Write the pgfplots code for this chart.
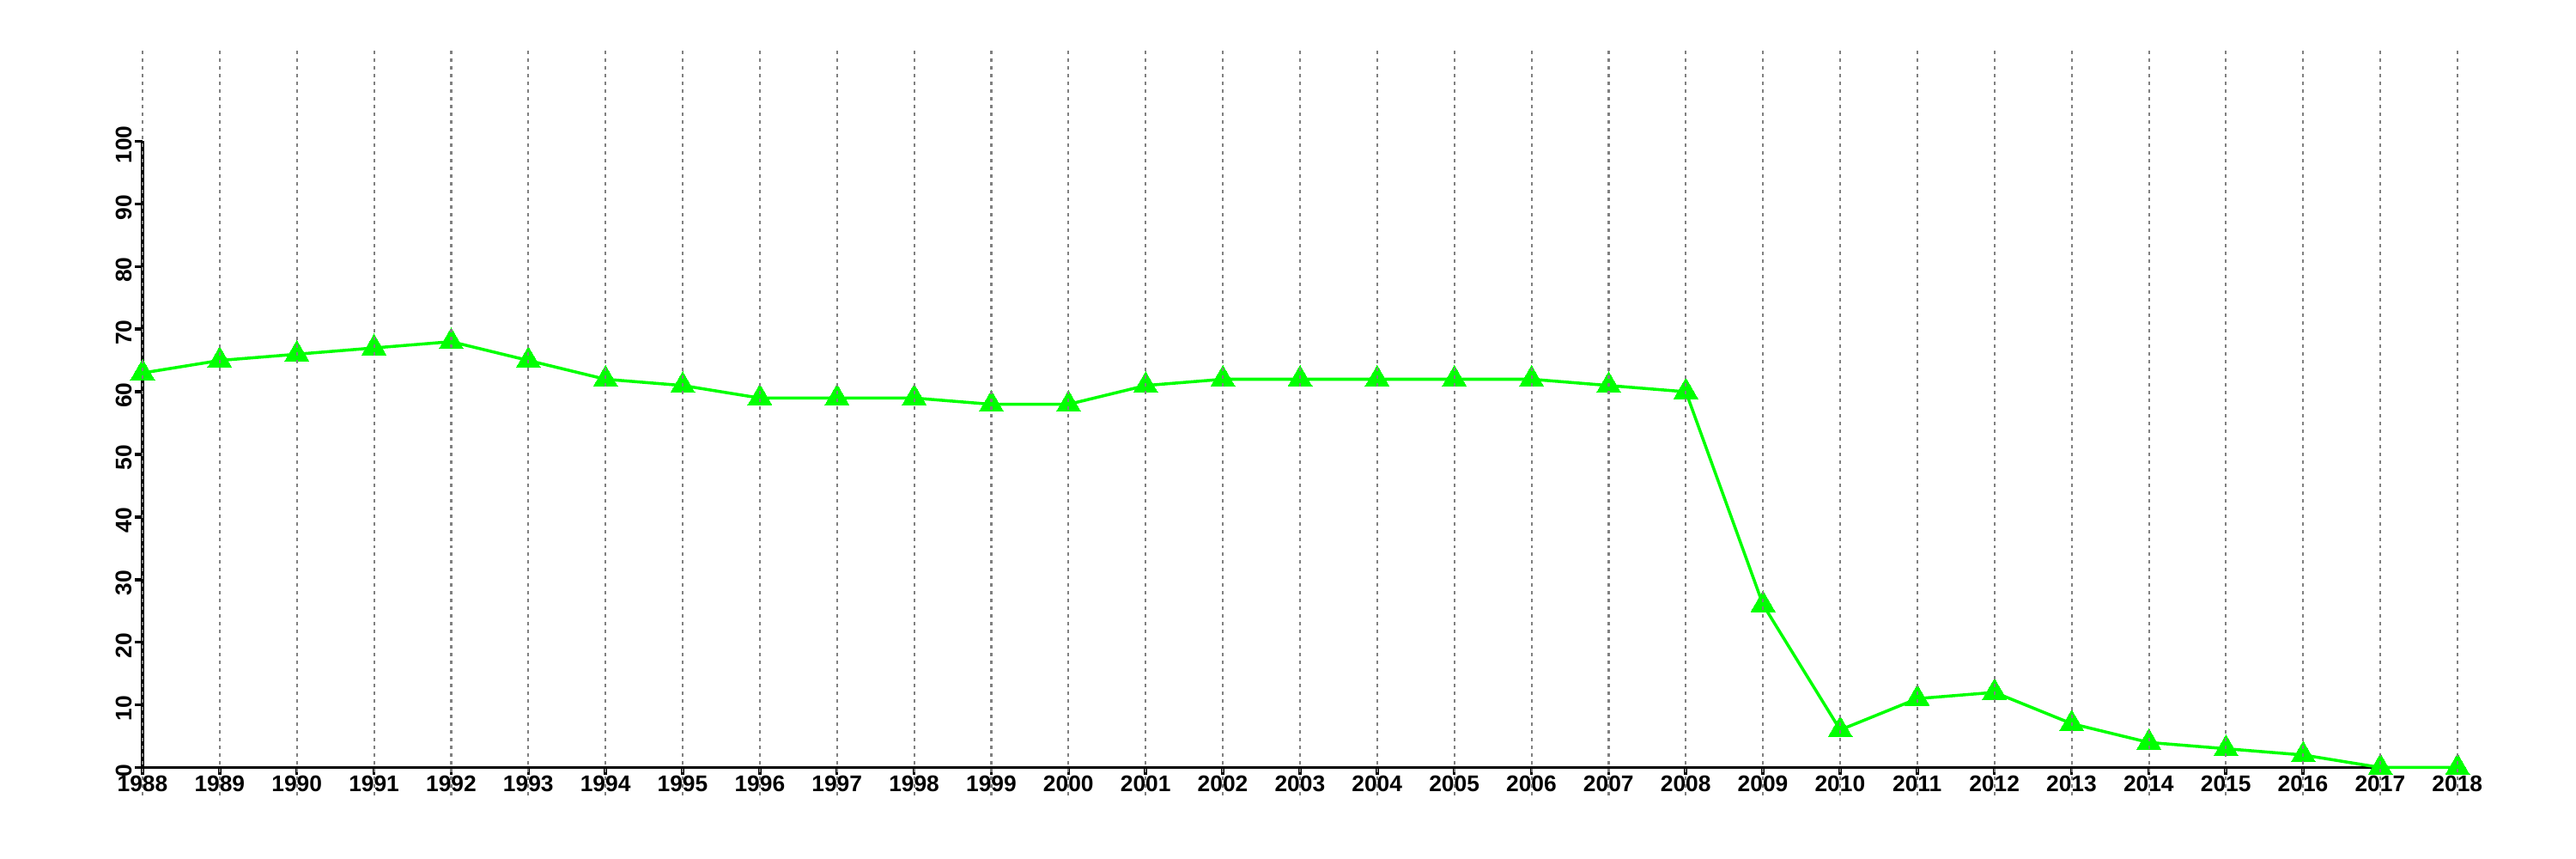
\documentclass[border=0pt]{standalone}
\usepackage{pgfplots}
\pgfplotsset{compat=1.18}
\usepackage{fontspec}
\setmainfont{Liberation Sans}
\begin{document}
\begin{tikzpicture}
\useasboundingbox (-1.66cm,-1.065cm) rectangle (28.34cm,8.935cm);
\begin{axis}[
  scale only axis,
  width=26.96cm, height=7.29cm,
  at={(0,0)}, anchor=south west,
  xmin=1988, xmax=2018, ymin=0, ymax=100,
  enlargelimits=false,
  axis lines*=left,
  axis line style={line width=1.1pt, black},
  clip=false,
  xtick={1988,...,2018},
  ytick={0,10,...,100},
  tick align=outside,
  major tick length=0.085cm,
  tick style={line width=1pt, black},
  /pgf/number format/assume math mode=true,
  xticklabel={\pgfmathprintnumber[1000 sep=]{\tick}},
  ticklabel style={font=\fontsize{7.5}{8}\selectfont\bfseries},
  xticklabel style={inner sep=0.5pt, yshift=0.01cm},
  yticklabel style={rotate=90, anchor=south, inner sep=1pt, xshift=-0.04cm},
]
\addplot[color={rgb,255:red,0;green,255;blue,0}, line width=1pt, mark=triangle*, mark size=4.6pt,
  mark options={fill={rgb,255:red,0;green,255;blue,0}, draw={rgb,255:red,0;green,255;blue,0}, line width=0pt}]
coordinates {
(1988,63) (1989,65) (1990,66) (1991,67) (1992,68) (1993,65) (1994,62) (1995,61)
(1996,59) (1997,59) (1998,59) (1999,58) (2000,58) (2001,61) (2002,62) (2003,62)
(2004,62) (2005,62) (2006,62) (2007,61) (2008,60) (2009,26) (2010,6) (2011,11)
(2012,12) (2013,7) (2014,4) (2015,3) (2016,2) (2017,0) (2018,0)
};
\end{axis}
\foreach \i in {0,...,30} {
  \draw[color={rgb,255:red,128;green,128;blue,128}, line width=0.6pt, dash pattern=on 0.04cm off 0.05cm]
    ({\i*26.96/30},-0.33) -- ({\i*26.96/30},8.34);
}
\end{tikzpicture}
\end{document}
